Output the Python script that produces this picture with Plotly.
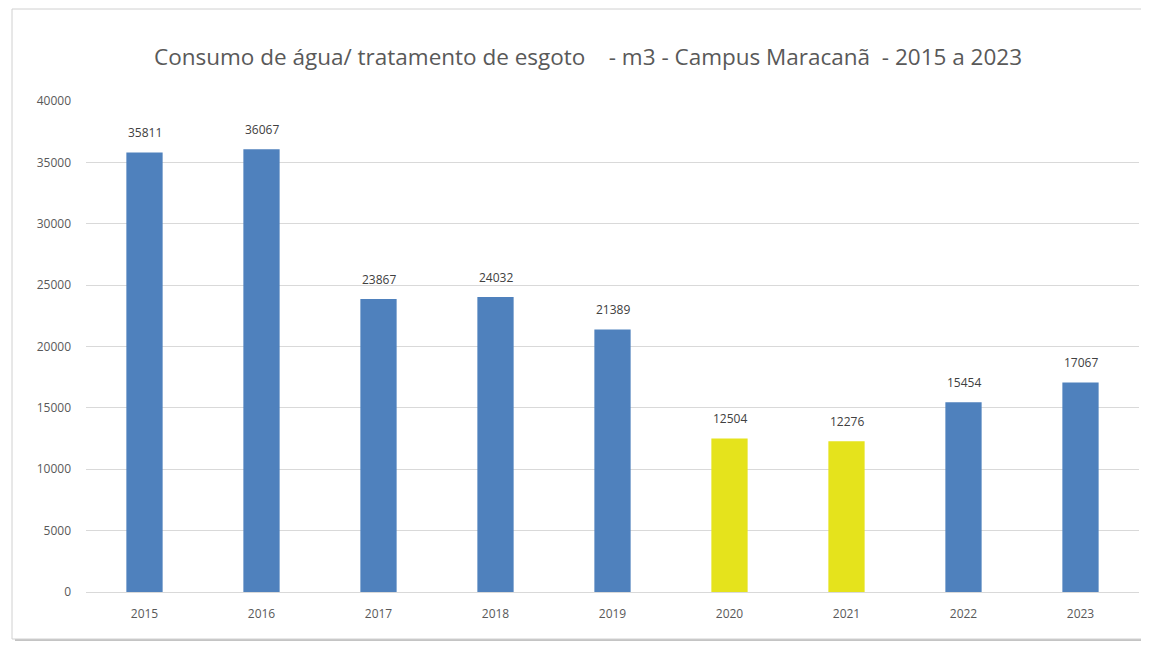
import plotly.graph_objects as go

years = ["2015", "2016", "2017", "2018", "2019", "2020", "2021", "2022", "2023"]
consumo = [35811, 36067, 23867, 24032, 21389, 12504, 12276, 15454, 17067]
bar_colors = ["#4F81BD"] * 5 + ["#E5E31C"] * 2 + ["#4F81BD"] * 2

# a página tem margem de 8px, então a figura fica deslocada
OFF = 8
W, H = 1149 - OFF, 649 - 2 * OFF
L, R, T, B = 86 - OFF, 10, 101 - OFF, 57 - OFF
pw, ph = W - L - R, H - T - B


def px_x(x):
    return (x - OFF - L) / pw


def px_y(y):
    return (H - B - (y - OFF)) / ph


fig = go.Figure(go.Bar(
    x=years,
    y=consumo,
    marker=dict(color=bar_colors, line=dict(width=0)),
    width=0.31,
    hovertemplate="%{x}: %{y}<extra></extra>",
))

# rótulos de dados (eixo de categorias: x = índice da categoria)
for i, v in enumerate(consumo):
    fig.add_annotation(x=i, y=v, xref="x", yref="y", text=str(v),
                       showarrow=False, yanchor="middle", yshift=20,
                       font=dict(size=12, color="#404040", family="Open Sans"))

# moldura com sombra
fig.add_shape(type="rect", xref="paper", yref="paper",
              x0=px_x(15), x1=px_x(1148), y0=px_y(643), y1=px_y(12),
              line=dict(width=0), fillcolor="#c4c4c4", layer="below")
fig.add_shape(type="rect", xref="paper", yref="paper",
              x0=px_x(12), x1=px_x(1145), y0=px_y(639), y1=px_y(9),
              line=dict(width=1, color="#d0d0d0"), fillcolor="white", layer="below")

fig.update_layout(
    width=W, height=H,
    margin=dict(l=L, r=R, t=T, b=B),
    paper_bgcolor="white",
    plot_bgcolor="rgba(0,0,0,0)",
    font=dict(family="Open Sans", color="#595959"),
    title=dict(
        text="Consumo de água/ tratamento de esgoto \u00a0\u00a0 - m3 - Campus Maracanã \u00a0- 2015 a 2023",
        x=px_x(588), xanchor="center", xref="paper",
        y=1 - (57 - OFF) / H, yanchor="middle",
        font=dict(size=22.5, color="#595959", family="Open Sans"),
    ),
    showlegend=False,
)
fig.update_xaxes(type="category", showgrid=False, showline=True, linecolor="#d9d9d9",
                 linewidth=1, ticks="", tickfont=dict(size=12, color="#595959"),
                 ticklabelstandoff=11)
fig.update_yaxes(range=[0, 40000], dtick=5000, tickformat="d", showgrid=True,
                 gridcolor="#d9d9d9", gridwidth=1, zeroline=False, showline=False,
                 ticks="", tickfont=dict(size=12, color="#595959"), ticklabelstandoff=14)

fig.write_html("out.html")
